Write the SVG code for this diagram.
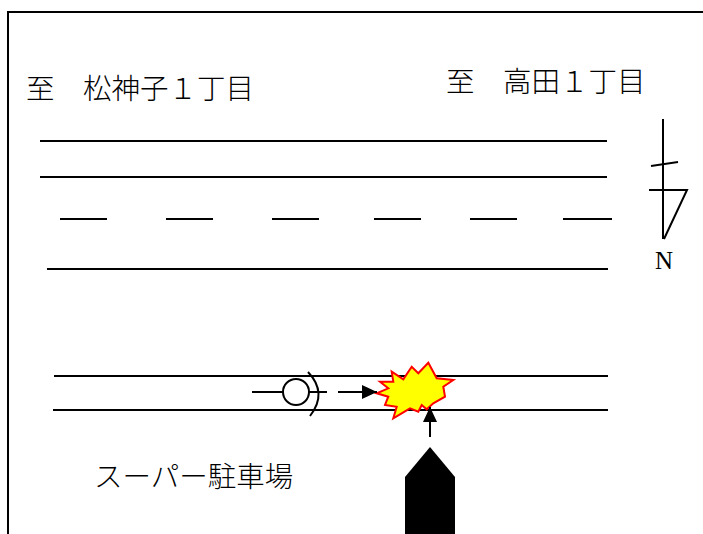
<svg xmlns="http://www.w3.org/2000/svg" width="703" height="534" viewBox="0 0 703 534">
<style>
.ln{stroke:#000;stroke-width:2;fill:none}
.t{font-family:"Liberation Serif","Noto Sans CJK JP",serif;font-size:28.5px;font-weight:300;fill:#000}
</style>
<defs>
<marker id="ah" viewBox="0 0 15 14" refX="15" refY="7" markerWidth="15" markerHeight="14" orient="auto" markerUnits="userSpaceOnUse"><path d="M0,0 L15,7 L0,14 z" fill="#000"/></marker>
</defs>
<rect width="703" height="534" fill="#fff"/>
<g id="frame"><path class="ln" d="M8,534 V12 H703"/></g>
<g id="road">
<line class="ln" x1="40" y1="141" x2="607" y2="141"/>
<line class="ln" x1="40" y1="177" x2="607" y2="177"/>
<line class="ln" x1="60" y1="219" x2="107" y2="219"/>
<line class="ln" x1="166" y1="219" x2="213" y2="219"/>
<line class="ln" x1="272" y1="219" x2="319" y2="219"/>
<line class="ln" x1="374" y1="219" x2="421" y2="219"/>
<line class="ln" x1="470" y1="219" x2="517" y2="219"/>
<line class="ln" x1="563" y1="219" x2="612" y2="219"/>
<line class="ln" x1="47" y1="269" x2="608" y2="269"/>
<line class="ln" x1="54" y1="376" x2="608" y2="376"/>
<line class="ln" x1="53" y1="410" x2="608" y2="410"/>
</g>
<g id="labels">
<text class="t" x="26" y="99">至　松神子１丁目</text>
<text class="t" x="446" y="92">至　高田１丁目</text>
<text class="t" x="94" y="487">スーパー駐車場</text>
</g>
<g id="north">
<line class="ln" x1="663" y1="119" x2="663" y2="239"/>
<line class="ln" x1="651" y1="166" x2="678" y2="162"/>
<path class="ln" d="M649,190 H687 L664,239"/>
<text x="655" y="269" style="font-family:'Liberation Serif',serif;font-size:25px;fill:#000">N</text>
</g>
<g id="bike">
<line class="ln" x1="252" y1="392" x2="327" y2="392"/>
<circle cx="296" cy="392" r="13" fill="#fff" stroke="#000" stroke-width="2"/>
<path class="ln" d="M308,372 Q328,393 310,416" stroke-width="2.2"/>
</g>
<g id="crash">
<polygon points="391.7,371.7 403.3,379.3 411.7,366.7 418.3,373.3 428.3,362.7 436.7,378.3 453.3,380 443.3,386.7 445,396.7 433.3,403.3 426.7,409.3 421.7,405 418.3,411.7 410,408.3 393.3,418.3 396.7,406.7 385,405 388.3,396.7 376.7,393.3 388.3,388.3 380,381.7 393.3,381.7" fill="#ffff00" stroke="#ff0000" stroke-width="2" stroke-linejoin="miter"/>
</g>
<g id="car">
<polygon points="430,447 455,477 455,534 405,534 405,477" fill="#000"/>
</g>
<g id="connectors">
<line class="ln" x1="338" y1="392" x2="377" y2="392" marker-end="url(#ah)"/>
<line class="ln" x1="430" y1="437" x2="430" y2="407" marker-end="url(#ah)"/>
</g>
</svg>
